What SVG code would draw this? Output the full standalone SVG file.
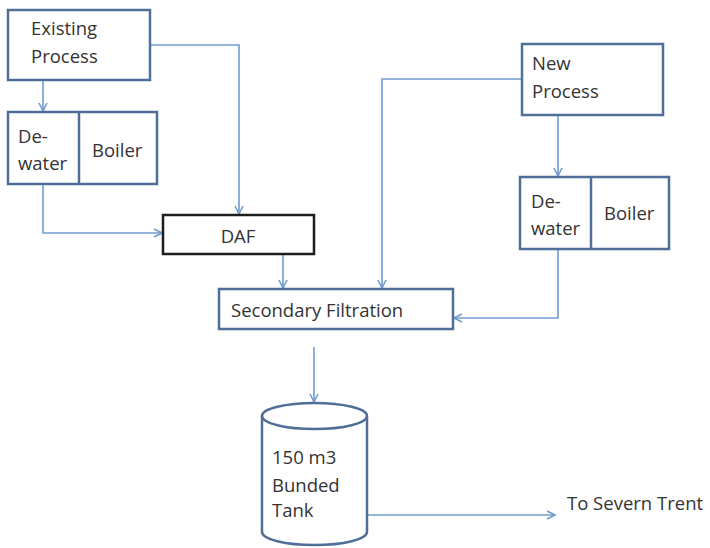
<svg xmlns="http://www.w3.org/2000/svg" width="710" height="548" viewBox="0 0 710 548">
  <style>
    .box { fill: #ffffff; stroke: #4f6f99; stroke-width: 2.5; }
    .dark { fill: #ffffff; stroke: #1e1e1e; stroke-width: 2.5; }
    .div { stroke: #4f6f99; stroke-width: 2.5; }
    .conn { fill: none; stroke: #729ccf; stroke-width: 1.6; }
    .arr { marker-end: url(#chev); }
    text { font-family: "Open Sans", "Liberation Sans", Arial, sans-serif; font-size: 18.5px; fill: #333333; }
  </style>
  <defs>
    <marker id="chev" viewBox="0 0 10 10" refX="9" refY="5" markerWidth="10" markerHeight="10" markerUnits="userSpaceOnUse" orient="auto">
      <polyline points="1,1 9,5 1,9" fill="none" stroke="#729ccf" stroke-width="1.6"/>
    </marker>
  </defs>

  <rect width="710" height="548" fill="#ffffff"/>

  <g id="connectors">
    <path class="conn arr" d="M43,80 V111"/>
    <path class="conn arr" d="M150,45 H239 V214"/>
    <path class="conn arr" d="M43,184 V233 H162"/>
    <path class="conn arr" d="M283,254 V288"/>
    <path class="conn arr" d="M522,79 H382 V288"/>
    <path class="conn arr" d="M558,115 V176"/>
    <path class="conn arr" d="M558,249 V318 H454"/>
    <path class="conn arr" d="M314,347 V402"/>
    <path class="conn arr" d="M367,515 H555"/>
  </g>

  <g id="existing-process">
    <rect class="box" x="8" y="10" width="142" height="70"/>
    <text x="31" y="35">Existing</text>
    <text x="31" y="63">Process</text>
  </g>

  <g id="existing-dewater-boiler">
    <rect class="box" x="8" y="112" width="149" height="72"/>
    <line class="div" x1="79" y1="112" x2="79" y2="184"/>
    <text x="18" y="143">De-</text>
    <text x="18" y="170">water</text>
    <text x="92" y="157">Boiler</text>
  </g>

  <g id="daf">
    <rect class="dark" x="163" y="215" width="151" height="39"/>
    <text x="238" y="243" text-anchor="middle">DAF</text>
  </g>

  <g id="secondary-filtration">
    <rect class="box" x="219" y="289" width="234" height="40"/>
    <text x="231" y="317">Secondary Filtration</text>
  </g>

  <g id="new-process">
    <rect class="box" x="522" y="44" width="141" height="71"/>
    <text x="532" y="70">New</text>
    <text x="532" y="98">Process</text>
  </g>

  <g id="new-dewater-boiler">
    <rect class="box" x="520" y="177" width="149" height="72"/>
    <line class="div" x1="591" y1="177" x2="591" y2="249"/>
    <text x="531" y="208">De-</text>
    <text x="531" y="235">water</text>
    <text x="604" y="220">Boiler</text>
  </g>

  <g id="bunded-tank">
    <path class="box" d="M262,416 V532 A52.5,13 0 0 0 367,532 V416"/>
    <ellipse class="box" cx="314.5" cy="416" rx="52.5" ry="13"/>
    <text x="272" y="464">150 m3</text>
    <text x="272" y="492">Bunded</text>
    <text x="272" y="517">Tank</text>
  </g>

  <g id="severn-trent">
    <text x="567" y="510">To Severn Trent</text>
  </g>
</svg>
